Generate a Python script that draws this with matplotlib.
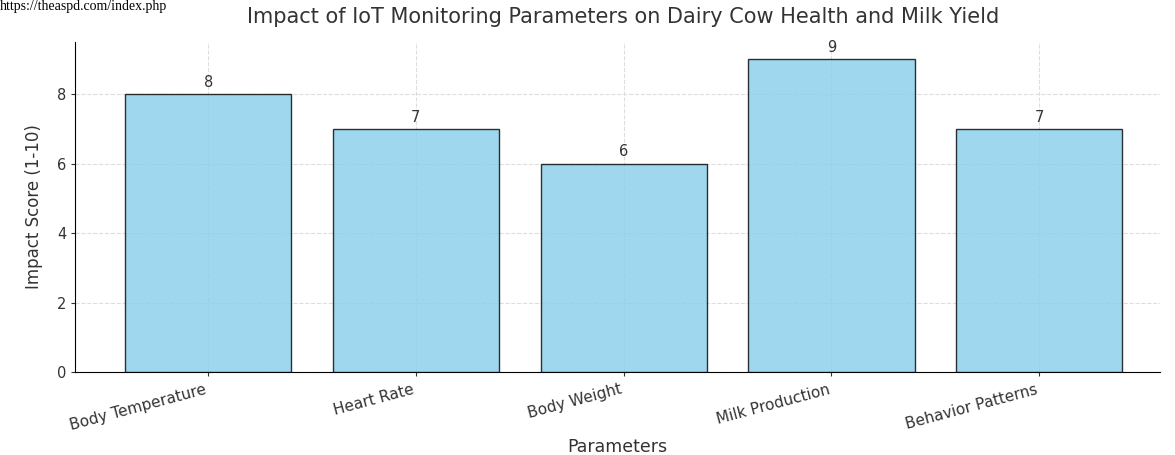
import matplotlib
matplotlib.use("Agg")
import matplotlib.pyplot as plt

parameters = ["Body Temperature", "Heart Rate", "Body Weight",
              "Milk Production", "Behavior Patterns"]
impact_scores = [8, 7, 6, 9, 7]

fig = plt.figure(figsize=(11.75, 4.55), dpi=100)
ax = fig.add_axes([0.064, 0.182, 0.923, 0.726])

bars = ax.bar(parameters, impact_scores, color="skyblue", alpha=0.8,
              edgecolor="black", width=0.8, zorder=3)
for b, v in zip(bars, impact_scores):
    ax.text(b.get_x() + b.get_width() / 2, v + 0.12, f"{v}",
            ha="center", va="bottom", fontsize=10.5, color="#333333", zorder=4)

ax.set_xlim(-0.64, 4.58)
ax.set_ylim(0, 9.5)
ax.set_yticks([0, 2, 4, 6, 8])
ax.grid(True, linestyle="--", color="#dddddd", linewidth=0.8, zorder=0)
for s in ("top", "right"):
    ax.spines[s].set_visible(False)
ax.tick_params(axis="y", labelsize=10.5, colors="#333333", length=3)
ax.tick_params(axis="x", labelsize=11, colors="#333333", length=3, pad=4)
plt.setp(ax.get_xticklabels(), rotation=15, ha="right")

ax.set_xlabel("Parameters", fontsize=12.5, color="#333333")
ax.xaxis.set_label_coords(0.5, -0.2)
ax.set_ylabel("Impact Score (1-10)", fontsize=12, color="#333333", labelpad=10)
fig.text(0.53, 0.962, "Impact of IoT Monitoring Parameters on Dairy Cow Health and Milk Yield",
         ha="center", va="center", fontsize=15, color="#333333")
fig.text(0.0, 0.999, "https://theaspd.com/index.php", ha="left", va="top",
         fontsize=10, family="Liberation Serif", color="black")

fig.savefig("out.png", dpi=100)
